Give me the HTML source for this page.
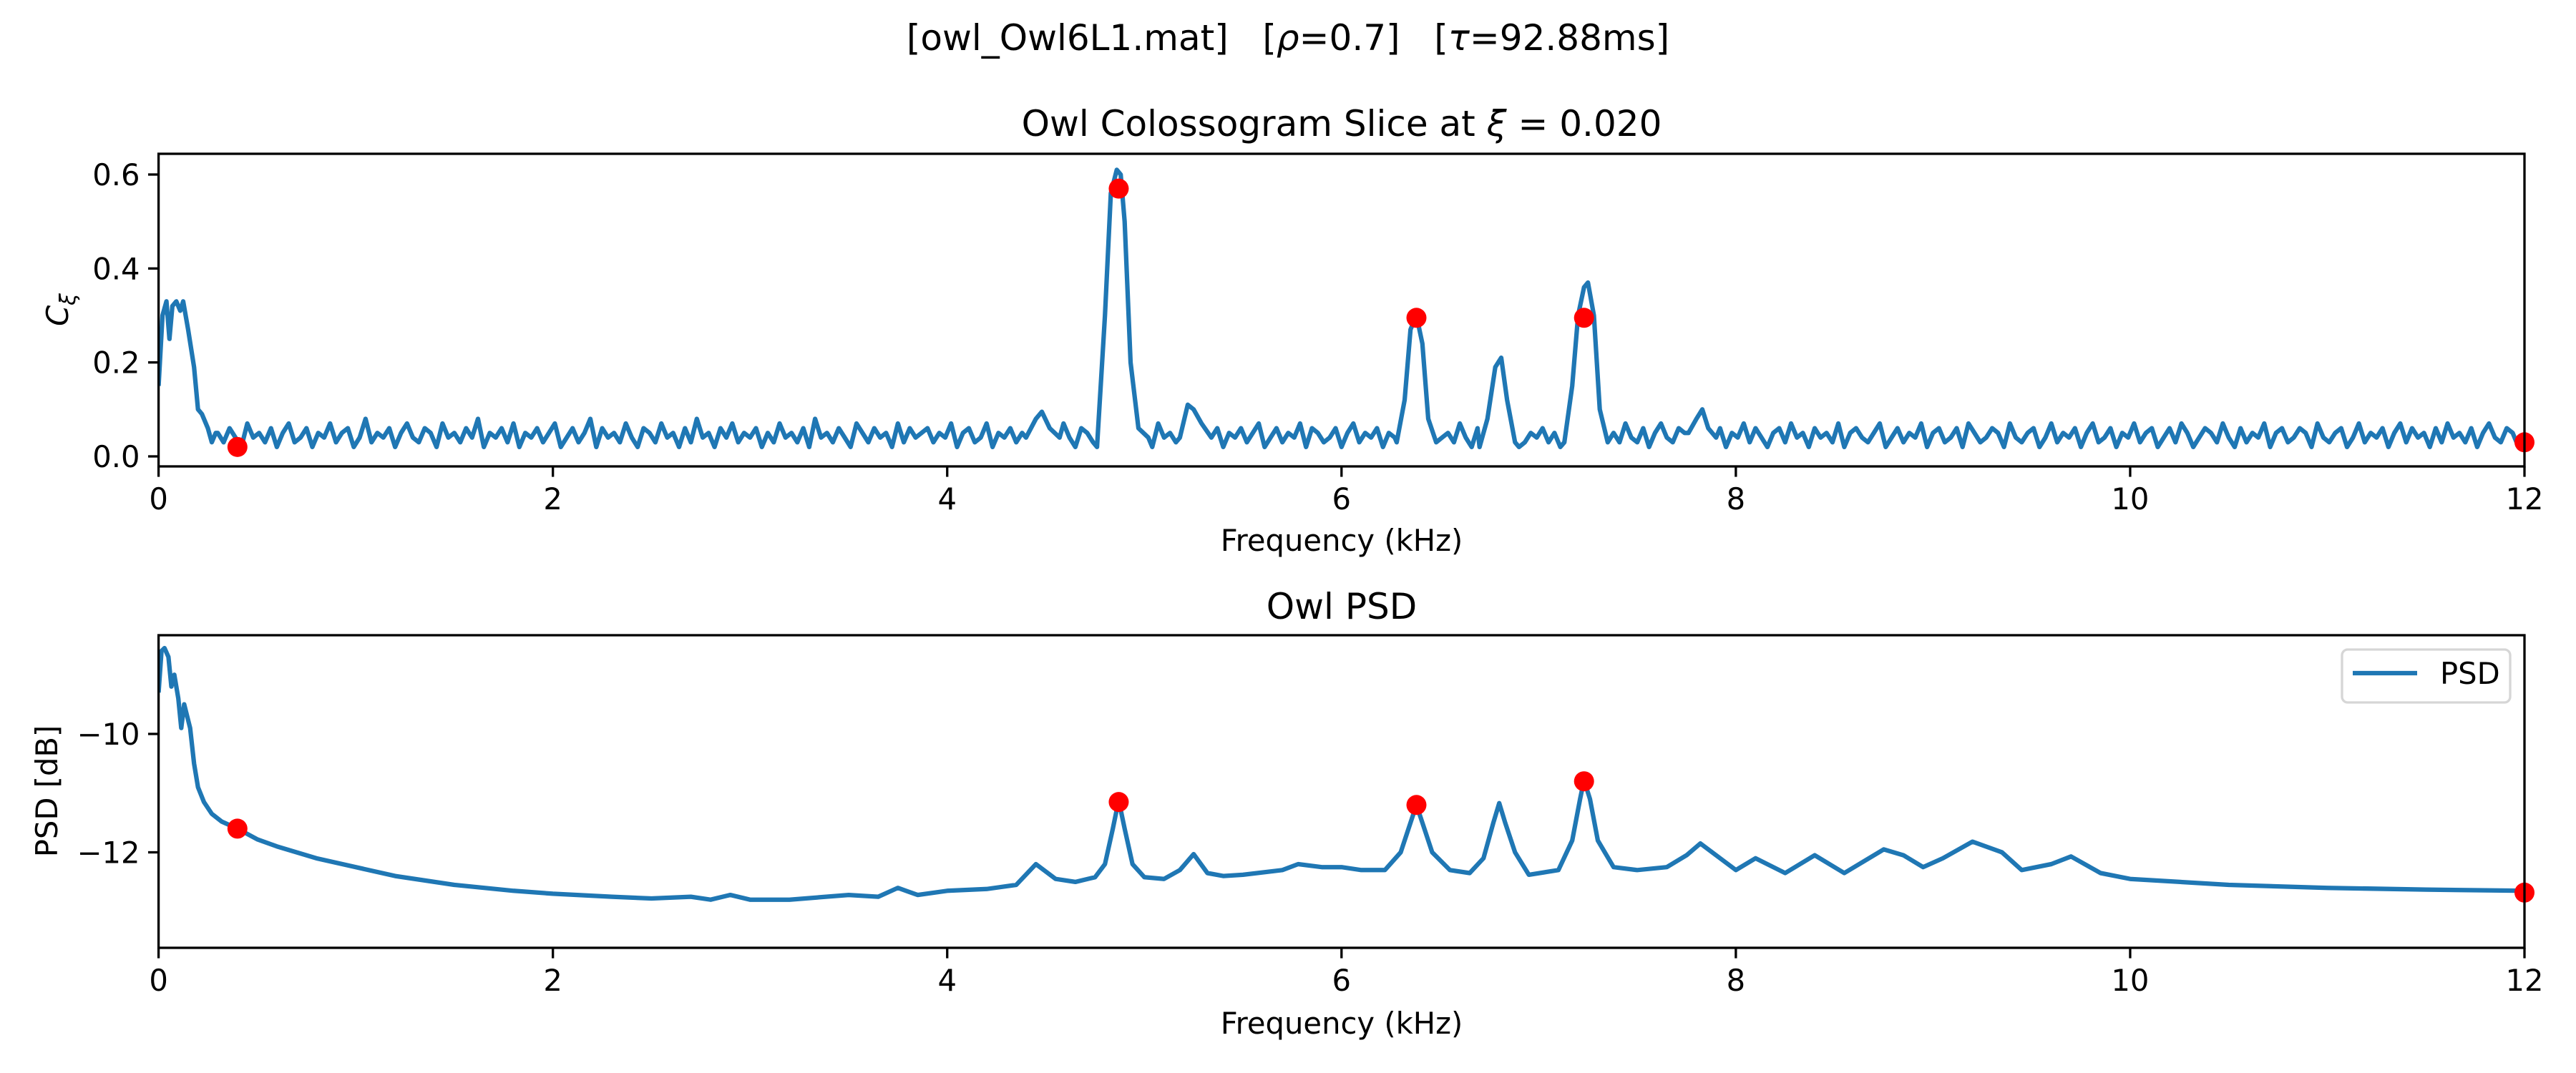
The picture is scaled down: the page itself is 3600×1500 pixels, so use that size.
<!DOCTYPE html>
<html><head><meta charset="utf-8"><style>
html,body{margin:0;padding:0;background:#fff;}
svg{display:block;font-family:"DejaVu Sans","Liberation Sans",sans-serif;}
</style></head><body>
<svg id="fig" width="3600" height="1500" viewBox="0 0 3600 1500" xmlns="http://www.w3.org/2000/svg">
<rect width="3600" height="1500" fill="#fff"/>
<text x="1800" y="70" font-size="50" text-anchor="middle">[owl_Owl6L1.mat]&#160;&#160;&#160;[<tspan font-style="italic">ρ</tspan>=0.7]&#160;&#160;&#160;[<tspan font-style="italic">τ</tspan>=92.88ms]</text>
<text x="1875" y="190" font-size="50" text-anchor="middle">Owl Colossogram Slice at <tspan font-style="italic">ξ</tspan> = 0.020</text>
<text x="1875" y="865" font-size="50" text-anchor="middle">Owl PSD</text>
<text x="1875" y="770" font-size="41.7" text-anchor="middle">Frequency (kHz)</text>
<text x="1875" y="1445" font-size="41.7" text-anchor="middle">Frequency (kHz)</text>
<text transform="translate(95,433) rotate(-90)" font-size="41.7" text-anchor="middle"><tspan font-style="italic">C</tspan><tspan font-style="italic" font-size="30" dy="10">ξ</tspan></text>
<text transform="translate(80,1106) rotate(-90)" font-size="41.7" text-anchor="middle">PSD [dB]</text>
<g id="top"></g><g id="bot"></g>
<g>
<rect x="3273" y="908" width="235" height="74" rx="8" fill="#fff" fill-opacity="0.8" stroke="#d6d6d6" stroke-width="3.3"/>
<line x1="3288" y1="941" x2="3378" y2="941" stroke="#1f77b4" stroke-width="6.25"/>
<text x="3410" y="956" font-size="41.7">PSD</text>
</g>
</svg>
<script>
// ---- data ----
const xTicks = [0, 2, 4, 6, 8, 10, 12];
const cohTicks = [0.0, 0.2, 0.4, 0.6];
const psdTicks = [-12, -10];
// coherence baseline (noise) sampled every 0.03 kHz from 0.30 kHz
const cohNoiseStart = 0.30, cohNoiseStep = 0.03;
const cohNoise = [5,3,6,4,2,7,4,5,3,6,2,5,7,3,4,6,2,5,4,7,3,5,6,2,4,8,3,5,4,6,2,5,7,4,3,6,5,2,7,4,
5,3,6,4,8,2,5,4,6,3,7,2,5,4,6,3,5,7,2,4,6,3,5,8,2,6,4,5,3,7,4,2,6,5,3,7,4,5,2,6,
3,8,4,5,2,6,4,7,3,5,4,6,2,5,3,7,4,5,3,6,2,8,4,5,3,6,4,2,7,5,3,6,4,5,2,7,3,6,4,5,
6,3,5,4,7,2,5,6,3,4,7,2,5,4,6,3,5,7,2,4,6,5,3,7,4,2,6,5,3,4,7,5,2,6,4,5,3,6,2,7,
4,5,3,6,2,5,7,3,4,6,2,5,4,6,3,5,7,2,4,6,3,5,4,7,2,6,5,3,4,6,2,5,7,3,5,4,6,2,5,4,
6,3,7,4,5,2,6,4,5,3,7,4,2,6,5,4,3,6,5,4,7,3,5,4,6,3,5,2,6,4,7,3,5,4,2,6,5,3,7,4,
3,6,2,5,7,4,3,6,5,2,4,7,3,5,6,2,5,4,7,3,6,4,2,5,6,3,7,4,5,2,6,4,5,3,7,2,5,6,4,3,
5,7,2,4,6,3,5,4,7,2,5,6,3,4,6,2,7,5,3,4,6,5,2,7,4,3,5,6,2,4,7,3,5,4,6,2,5,7,3,4,
6,2,5,4,7,3,5,6,2,4,6,3,7,5,2,4,6,5,3,7,4,2,6,3,5,4,7,2,5,6,3,4,6,5,2,7,4,3,5,6,
2,4,7,3,5,4,6,2,5,7,3,6,4,5,2,6,3,7,4,5,3,6,2,5,7,4,3,6,5,2,4,7,3,5,6,2,4,5,7,3];
const cohSkip = [[0.00,0.29],[4.40,4.57],[4.76,5.02],[5.18,5.34],[6.28,6.48],[6.70,6.90],[7.13,7.35],[7.76,7.90]];
const cohPeakFreq = [0,0.02,0.04,0.055,0.07,0.09,0.11,0.125,0.15,0.18,0.2,0.22,0.25,0.27,0.29,
4.40,4.45,4.48,4.52,4.57, 4.76,4.80,4.83,4.86,4.88,4.90,4.93,4.97,5.02,
5.18,5.22,5.25,5.29,5.34, 6.28,6.32,6.35,6.38,6.41,6.44,6.48,
6.70,6.74,6.78,6.81,6.84,6.88,6.90, 7.13,7.17,7.20,7.23,7.25,7.28,7.31,7.35,
7.76,7.80,7.83,7.86,7.90];
const cohPeakVal = [0.15,0.30,0.33,0.25,0.32,0.33,0.31,0.33,0.27,0.19,0.10,0.09,0.06,0.03,0.05,
0.04,0.08,0.095,0.06,0.04, 0.02,0.30,0.56,0.61,0.60,0.50,0.20,0.06,0.04,
0.04,0.11,0.10,0.07,0.04, 0.03,0.12,0.27,0.30,0.24,0.08,0.03,
0.02,0.08,0.19,0.21,0.12,0.03,0.02, 0.03,0.15,0.30,0.36,0.37,0.30,0.10,0.03,
0.05,0.08,0.10,0.06,0.04];
const cohMarkFreq = [0.4, 4.87, 6.38, 7.23, 12];
const cohMarkVal = [0.02, 0.57, 0.295, 0.295, 0.03];
const psdFreq = [0,0.015,0.03,0.05,0.065,0.08,0.1,0.115,0.13,0.16,0.18,0.2,0.23,0.27,0.32,0.4,0.5,0.6,0.8,1.0,1.2,1.5,1.8,2.0,2.3,2.5,2.7,2.8,2.9,3.0,3.2,3.5,3.65,3.75,3.85,4.0,4.2,4.35,4.45,4.55,4.65,4.75,4.8,4.84,4.87,4.9,4.94,5.0,5.1,5.18,5.25,5.32,5.4,5.5,5.7,5.78,5.9,6.0,6.1,6.22,6.3,6.35,6.38,6.41,6.46,6.55,6.65,6.72,6.77,6.8,6.83,6.88,6.95,7.1,7.17,7.21,7.23,7.26,7.3,7.38,7.5,7.65,7.75,7.82,7.9,8.0,8.1,8.25,8.4,8.55,8.65,8.75,8.85,8.95,9.05,9.2,9.35,9.45,9.6,9.7,9.85,10,10.5,11,11.5,12];
const psdVal = [-9.3,-8.6,-8.55,-8.7,-9.2,-9.0,-9.4,-9.9,-9.5,-9.9,-10.5,-10.9,-11.15,-11.35,-11.48,-11.6,-11.78,-11.9,-12.1,-12.25,-12.4,-12.55,-12.65,-12.7,-12.75,-12.78,-12.75,-12.8,-12.72,-12.8,-12.8,-12.72,-12.75,-12.6,-12.72,-12.65,-12.62,-12.55,-12.2,-12.45,-12.5,-12.42,-12.2,-11.6,-11.12,-11.6,-12.2,-12.42,-12.45,-12.3,-12.03,-12.35,-12.4,-12.38,-12.3,-12.2,-12.25,-12.25,-12.3,-12.3,-12.0,-11.5,-11.2,-11.5,-12.0,-12.3,-12.35,-12.1,-11.5,-11.17,-11.5,-12.0,-12.38,-12.3,-11.8,-11.1,-10.78,-11.1,-11.8,-12.25,-12.3,-12.25,-12.05,-11.85,-12.05,-12.3,-12.1,-12.35,-12.05,-12.35,-12.15,-11.95,-12.05,-12.25,-12.1,-11.82,-12.0,-12.3,-12.2,-12.07,-12.35,-12.45,-12.55,-12.6,-12.63,-12.65];
const psdMarkFreq = [0.4, 4.87, 6.38, 7.23, 12];
const psdMarkVal = [-11.6, -11.15, -11.2, -10.8, -12.68];

// ---- layout ----
const NS = "http://www.w3.org/2000/svg";
const L = 221.6, R = 3528;
const xS = f => L + (f / 12) * (R - L);
const topY = v => 638 - (v - 0) * 656.7;
const botY = v => 1026 - (v + 10) * 82.75;
function mk(tag, attrs, parent) { const e = document.createElementNS(NS, tag); for (const k in attrs) e.setAttribute(k, attrs[k]); parent.appendChild(e); return e; }

function axes(g, y0, y1, yFn, yTicks, fmt, prefix) {
  for (const t of xTicks) {
    const x = xS(t);
    const tk = mk('line', {x1:x, x2:x, y1:y1, y2:y1+14.6, stroke:'#000', 'stroke-width':3.3}, g);
    
    
    const tl = mk('text', {x:x, y:y1+60, 'font-size':41.7, 'text-anchor':'middle'}, g);
    tl.textContent = String(t);
    
    
  }
  for (const t of yTicks) {
    const y = yFn(t);
    const tk = mk('line', {x1:L-14.6, x2:L, y1:y, y2:y, stroke:'#000', 'stroke-width':3.3}, g);
    
    
    const tl = mk('text', {x:L-26, y:y+15, 'font-size':41.7, 'text-anchor':'end'}, g);
    tl.textContent = fmt(t);
    
    
  }
}
function series(g, fs, vs, yFn, name, y0, y1) {
  const cid = name + '-clip';
  const cp = mk('clipPath', {id:cid}, g);
  mk('rect', {x:L, y:y0, width:R-L, height:y1-y0}, cp);
  const d = fs.map((f,i) => (i?'L':'M') + xS(f).toFixed(1) + ',' + yFn(vs[i]).toFixed(1)).join('');
  const p = mk('path', {d:d, fill:'none', stroke:'#1f77b4', 'stroke-width':6.25, 'stroke-linejoin':'round', 'clip-path':'url(#'+cid+')'}, g);
  
  
}
function marks(g, fs, vs, yFn, name) {
  fs.forEach((f,i) => {
    const c = mk('circle', {cx:xS(f), cy:yFn(vs[i]), r:14, fill:'#ff0000'}, g);
    
    
  });
}
function frame(g, y0, y1, name) {
  const r = mk('rect', {x:L, y:y0, width:R-L, height:y1-y0, fill:'none', stroke:'#000', 'stroke-width':3.3}, g);
  
  
}

// coherence series: merge noise + explicit peak points
const pts = [];
cohNoise.forEach((v,i) => {
  const f = cohNoiseStart + i * cohNoiseStep;
  if (f > 12.001) return;
  if (cohSkip.some(r => f >= r[0] && f <= r[1])) return;
  pts.push([f, v/100]);
});
cohPeakFreq.forEach((f,i) => pts.push([f, cohPeakVal[i]]));
pts.sort((a,b) => a[0]-b[0]);

const gt = document.getElementById('top');


series(gt, pts.map(p=>p[0]), pts.map(p=>p[1]), topY, 'coherence-line', 215, 652);
marks(gt, cohMarkFreq, cohMarkVal, topY, 'coherence-peak-marker');
frame(gt, 215, 652, 'coherence-plot-frame');
axes(gt, 215, 652, topY, cohTicks, t => t.toFixed(1), 'coherence');

const gb = document.getElementById('bot');


series(gb, psdFreq, psdVal, botY, 'psd-line', 888, 1325);
marks(gb, psdMarkFreq, psdMarkVal, botY, 'psd-peak-marker');
frame(gb, 888, 1325, 'psd-plot-frame');
axes(gb, 888, 1325, botY, psdTicks, t => '\u2212' + Math.abs(t), 'psd');
</script>
</body></html>
